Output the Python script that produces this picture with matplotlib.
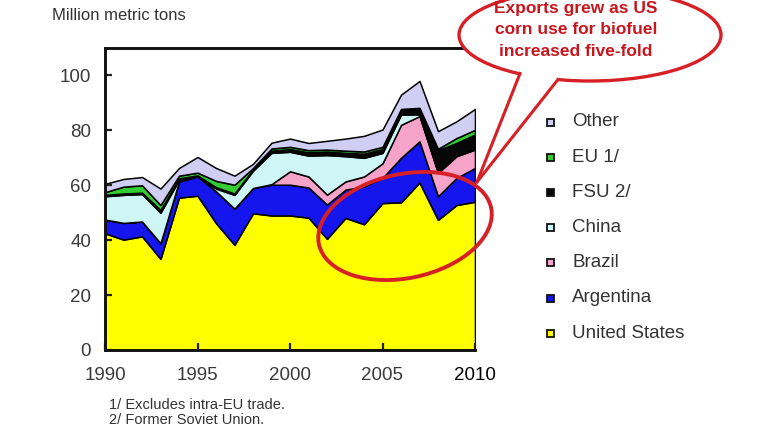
import matplotlib
matplotlib.use('Agg')
import matplotlib.pyplot as plt
import matplotlib.transforms as mtrans
from matplotlib.patches import Ellipse, Polygon, Rectangle
from matplotlib.lines import Line2D

plt.rcParams['font.family'] = ['Liberation Sans', 'DejaVu Sans']

# ---------------- data (million metric tons) ----------------
years = list(range(1990, 2011))
united_states = [42.5, 40.2, 41.4, 33.2, 55.5, 56.2, 46.2, 38.3, 49.8, 49.0, 49.0,
                 48.2, 40.5, 48.1, 45.8, 53.5, 53.8, 61.0, 47.4, 52.8, 54.0]
argentina = [5.0, 6.1, 5.4, 5.7, 5.9, 7.1, 11.6, 13.2, 9.2, 11.2, 11.2,
             11.0, 12.5, 10.3, 13.8, 9.2, 16.2, 15.0, 8.6, 9.9, 12.3]
brazil = [0.0, 0.0, 0.0, 0.0, 0.0, 0.0, 0.0, 0.0, 0.0, 0.2, 4.9,
          4.0, 3.6, 3.0, 3.6, 5.3, 12.0, 9.2, 8.5, 7.9, 6.7]
china = [8.5, 10.2, 10.0, 11.1, 0.6, 0.0, 1.0, 5.0, 6.3, 11.4, 7.1,
         7.6, 14.4, 9.2, 6.8, 3.8, 3.8, 0.6, 0.3, 0.2, 0.2]
fsu = [0.5, 0.5, 0.5, 1.0, 0.5, 0.3, 0.5, 0.5, 0.5, 0.8, 1.0,
       1.2, 1.3, 1.2, 1.5, 1.4, 1.5, 2.0, 8.0, 4.6, 5.3]
eu = [1.0, 2.5, 2.7, 1.8, 1.0, 1.0, 2.3, 3.2, 0.5, 0.8, 0.8,
      0.8, 0.7, 0.8, 0.8, 0.8, 0.5, 0.4, 0.5, 1.8, 1.7]
other = [3.0, 2.8, 3.0, 6.0, 2.8, 5.7, 4.7, 3.3, 1.5, 2.1, 3.0,
         2.6, 3.2, 4.4, 5.7, 6.3, 5.2, 9.8, 6.4, 6.1, 7.6]

series_names = ['United States', 'Argentina', 'Brazil', 'China', 'FSU 2/', 'EU 1/', 'Other']
series_colors = ['#FFFF00', '#1515EE', '#F5A3C8', '#CFF6F6', '#060606', '#33CC33', '#D0CEF3']
x_ticks = [1990, 1995, 2000, 2005, 2010]
y_ticks = [0, 20, 40, 60, 80, 100]
y_label = 'Million metric tons'
callout_lines = ['Exports grew as US', 'corn use for biofuel', 'increased five-fold']
footnotes = ['1/ Excludes intra-EU trade.', '2/ Former Soviet Union.']

W, H = 768, 432
fig = plt.figure(figsize=(W / 100, H / 100), dpi=100)
fig.patch.set_facecolor('white')

# pixel transform (x right, y down from top-left)
PX = mtrans.Affine2D().scale(0.01, -0.01).translate(0, H / 100) + fig.dpi_scale_trans

left, right, top, bottom = 105, 475, 48, 350
ax = fig.add_axes([left / W, (H - bottom) / H, (right - left) / W, (bottom - top) / H])
ax.stackplot(years, united_states, argentina, brazil, china, fsu, eu, other,
             colors=series_colors, edgecolor='black', linewidth=1.1)
ax.set_xlim(1990, 2010)
ax.set_ylim(0, 110)
ax.set_xticks(x_ticks)
ax.set_yticks(y_ticks)
ax.set_xticklabels([str(t) for t in x_ticks])
ax.tick_params(axis='both', direction='in', length=5, width=1.6, colors='#222222',
               labelsize=13.5, labelcolor='#3a3a3a')
ax.tick_params(axis='y', pad=10)
ax.tick_params(axis='x', pad=12)
ax.get_xticklabels()[-1].set_color('#000000')
for s in ['left', 'bottom', 'top']:
    ax.spines[s].set_linewidth(2.1)
    ax.spines[s].set_color('#111111')
ax.spines['right'].set_visible(False)

fig.text(52 / W, 1 - 15 / H, y_label, fontsize=12, color='#333333', va='center', ha='left')

# legend (top to bottom: Other ... United States)
leg_rows = list(zip(series_names, series_colors))[::-1]
for i, (name, col) in enumerate(leg_rows):
    yy = 122 + i * 35.2
    fig.add_artist(Rectangle((547, yy - 3.5), 7, 7, transform=PX, facecolor=col,
                             edgecolor='#111111', linewidth=1.3))
    fig.text(572 / W, 1 - yy / H, name, fontsize=13.5, color='#333333', va='center', ha='left')

# red ellipse highlighting recent years
fig.add_artist(Ellipse((405, 226), 176, 104, angle=-12, transform=PX, facecolor='none',
                       edgecolor='#D71F26', linewidth=2.8))

# callout balloon
fig.add_artist(Ellipse((590, 35), 262, 92, transform=PX, facecolor='white',
                       edgecolor='#D71F26', linewidth=2.4, zorder=5))
tip = (477, 182)
fig.add_artist(Polygon([(521.7, 68.6), (562, 73.4), tip], closed=True, transform=PX,
                       facecolor='white', edgecolor='none', zorder=6))
fig.add_artist(Line2D([520, tip[0]], [73.5, tip[1]], transform=PX, color='#D71F26',
                      linewidth=2.2, zorder=7))
fig.add_artist(Line2D([558, tip[0]], [79.5, tip[1]], transform=PX, color='#D71F26',
                      linewidth=2.2, zorder=7))
for i, line in enumerate(callout_lines):
    fig.text(576 / W, 1 - (9 + i * 21) / H, line, fontsize=12.5, fontweight='bold',
             color='#C8161E', ha='center', va='center', zorder=8)

for i, note in enumerate(footnotes):
    fig.text(109 / W, 1 - (405 + i * 15) / H, note, fontsize=10.5, color='#333333',
             ha='left', va='center')

fig.savefig('out.png', dpi=100)
